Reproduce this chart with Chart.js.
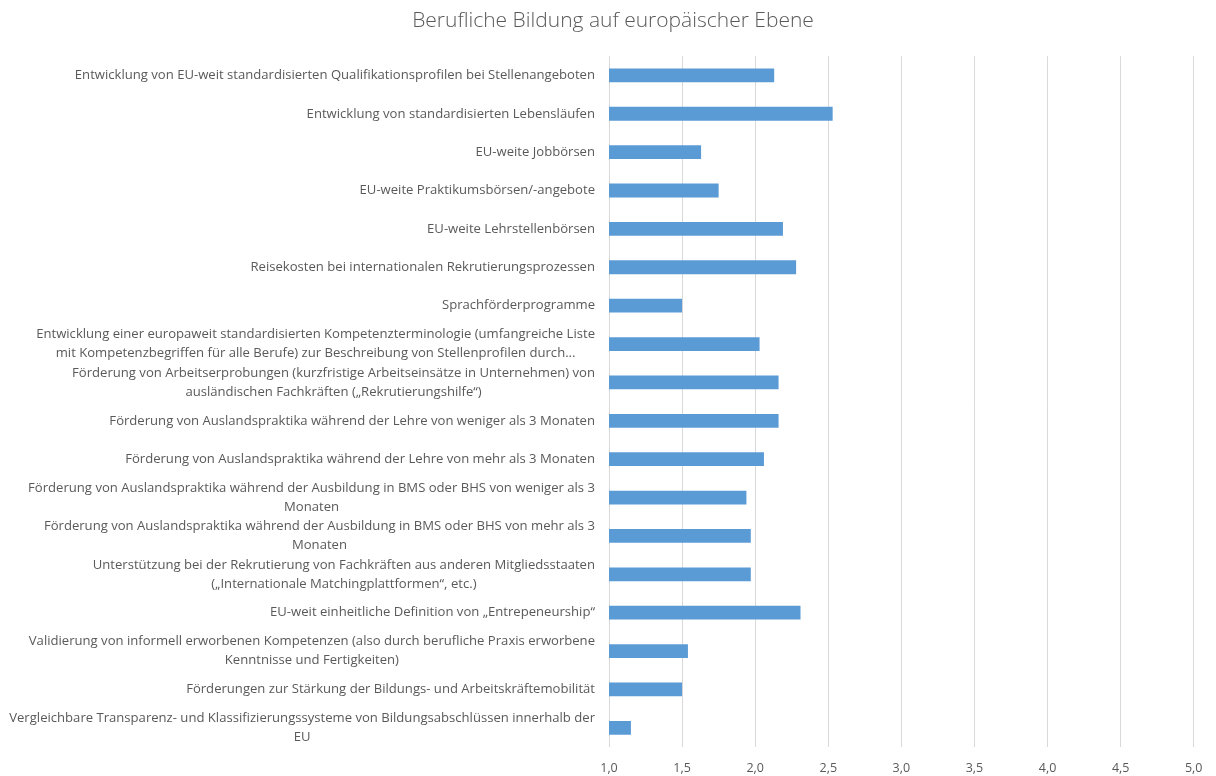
<!DOCTYPE html>
<html lang="de">
<head>
    <meta charset="UTF-8">
    <title>Berufliche Bildung auf europäischer Ebene</title>
    <style>
        body {
            margin: 0;
            padding: 0;
            background-color: #fff;
        }
        .chart-box {
            width: 1216px;
            height: 776px;
        }
    </style>
    <script src="https://cdn.jsdelivr.net/npm/chart.js"></script>
</head>
<body>
    <div class="chart-box">
        <canvas id="bildungChart"></canvas>
    </div>
    <script>
        const chartTitle = 'Berufliche Bildung auf europäischer Ebene';

        // one entry per bar, multi-line labels as arrays
        const categories = [
            'Entwicklung von EU-weit standardisierten Qualifikationsprofilen bei Stellenangeboten',
            'Entwicklung von standardisierten Lebensläufen',
            'EU-weite Jobbörsen',
            'EU-weite Praktikumsbörsen/-angebote',
            'EU-weite Lehrstellenbörsen',
            'Reisekosten bei internationalen Rekrutierungsprozessen',
            'Sprachförderprogramme',
            ['Entwicklung einer europaweit standardisierten Kompetenzterminologie (umfangreiche Liste',
             'mit Kompetenzbegriffen für alle Berufe) zur Beschreibung von Stellenprofilen durch...'],
            ['Förderung von Arbeitserprobungen (kurzfristige Arbeitseinsätze in Unternehmen) von',
             'ausländischen Fachkräften („Rekrutierungshilfe“)'],
            'Förderung von Auslandspraktika während der Lehre von weniger als 3 Monaten',
            'Förderung von Auslandspraktika während der Lehre von mehr als 3 Monaten',
            ['Förderung von Auslandspraktika während der Ausbildung in BMS oder BHS von weniger als 3',
             'Monaten'],
            ['Förderung von Auslandspraktika während der Ausbildung in BMS oder BHS von mehr als 3',
             'Monaten'],
            ['Unterstützung bei der Rekrutierung von Fachkräften aus anderen Mitgliedsstaaten',
             '(„Internationale Matchingplattformen“, etc.)'],
            'EU-weit einheitliche Definition von „Entrepeneurship“',
            ['Validierung von informell erworbenen Kompetenzen (also durch berufliche Praxis erworbene',
             'Kenntnisse und Fertigkeiten)'],
            'Förderungen zur Stärkung der Bildungs- und Arbeitskräftemobilität',
            ['Vergleichbare Transparenz- und Klassifizierungssysteme von Bildungsabschlüssen innerhalb der',
             'EU']
        ];

        const values = [
            2.13, 2.53, 1.63, 1.75, 2.19, 2.28, 1.50, 2.03, 2.16,
            2.16, 2.06, 1.94, 1.97, 1.97, 2.31, 1.54, 1.50, 1.15
        ];

        const xTickLabels = ['1,0', '1,5', '2,0', '2,5', '3,0', '3,5', '4,0', '4,5', '5,0'];

        const textColor = '#595959';
        const fontFamily = '"Open Sans", sans-serif';
        const labelFont = '13.1px "Open Sans", sans-serif';

        // category labels: block right-aligned to the axis, each line centred in the block
        const categoryLabels = {
            id: 'categoryLabels',
            afterDraw(chart) {
                const ctx = chart.ctx;
                const yScale = chart.scales.y;
                const right = chart.chartArea.left - 14;
                const lineHeight = 19;
                ctx.save();
                ctx.font = labelFont;
                ctx.fillStyle = textColor;
                ctx.textAlign = 'center';
                ctx.textBaseline = 'middle';
                categories.forEach((label, i) => {
                    const lines = Array.isArray(label) ? label : [label];
                    const maxW = Math.max(...lines.map(l => ctx.measureText(l).width));
                    const cx = right - maxW / 2;
                    const cy = yScale.getPixelForTick(i);
                    const top = cy - (lines.length - 1) * lineHeight / 2;
                    lines.forEach((line, j) => {
                        ctx.fillText(line, cx, top + j * lineHeight);
                    });
                });
                ctx.restore();
            }
        };

        new Chart(document.getElementById('bildungChart'), {
            type: 'bar',
            data: {
                labels: categories,
                datasets: [{
                    data: values,
                    backgroundColor: '#5B9BD5',
                    borderWidth: 0,
                    categoryPercentage: 0.5,
                    barPercentage: 0.72
                }]
            },
            options: {
                indexAxis: 'y',
                responsive: true,
                maintainAspectRatio: false,
                animation: false,
                layout: {
                    padding: { top: 0, right: 19, bottom: 0, left: 29 }
                },
                plugins: {
                    legend: { display: false },
                    tooltip: { enabled: false },
                    title: {
                        display: true,
                        text: chartTitle,
                        color: textColor,
                        font: { family: fontFamily, size: 21, weight: 300 },
                        padding: { top: 8.5, bottom: 22.5 }
                    }
                },
                scales: {
                    x: {
                        min: 1,
                        max: 5,
                        ticks: {
                            stepSize: 0.5,
                            color: textColor,
                            font: { family: fontFamily, size: 12.5 },
                            padding: 13.5,
                            callback: (value, index) => xTickLabels[index]
                        },
                        grid: {
                            color: '#D9D9D9',
                            lineWidth: 1,
                            drawTicks: false
                        },
                        border: { display: false },
                        afterFit(scale) {
                            scale.height = 29;
                        }
                    },
                    y: {
                        ticks: { display: false },
                        grid: { display: false },
                        border: { display: false },
                        afterFit(scale) {
                            scale.width = 580;
                        }
                    }
                }
            },
            plugins: [categoryLabels]
        });
    </script>
</body>
</html>
